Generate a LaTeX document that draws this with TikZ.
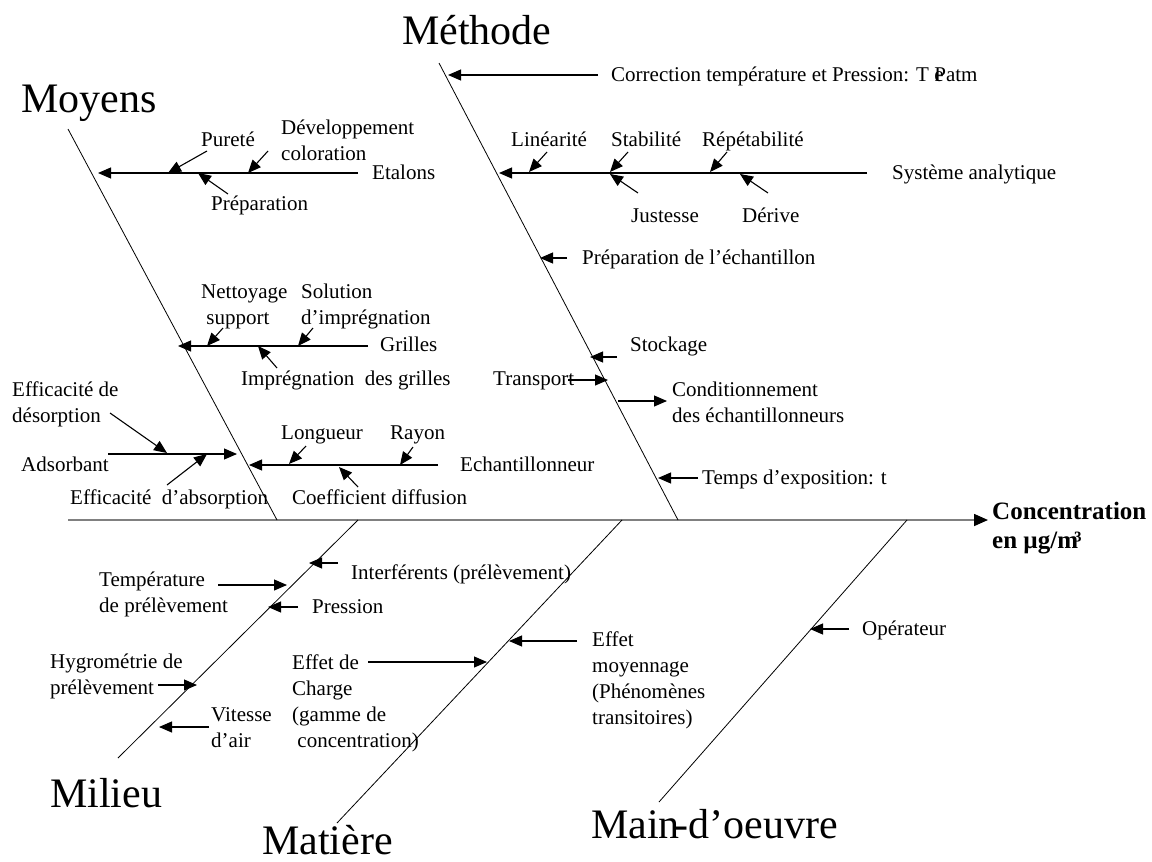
\documentclass[tikz,border=0pt]{standalone}
\usepackage{fontspec}
\setmainfont{Liberation Serif}
\usetikzlibrary{arrows.meta}
\tikzstyle{bone}=[draw, line width=0.8pt]
\tikzstyle{spine}=[draw=gray, line width=1.6pt,
    -{Triangle[length=14pt,width=12pt,color=black]}]
\tikzstyle{cause}=[draw, line width=1.1pt,
    -{Triangle[length=13pt,width=11pt]}]
\tikzstyle{lbl}=[anchor=base west, inner sep=0pt, align=left,
    font=\fontsize{21}{26}\selectfont]
\tikzstyle{heading}=[anchor=base west, inner sep=0pt,
    font=\fontsize{42}{46}\selectfont]
\tikzstyle{effect}=[anchor=base west, inner sep=0pt, align=left,
    font=\bfseries\fontsize{25}{29}\selectfont]

\begin{document}
\begin{tikzpicture}[x=1pt, y=-1pt]

    \useasboundingbox (0,0) rectangle (1152,862);

    \coordinate (spine-a) at ( 68,520);  \coordinate (spine-b) at (988,520);
    \path[spine] (spine-a) -- (spine-b);
    \node[effect] (concentration) at (992,548) {Concentration\\en µg/m\kern-4pt³};

    \coordinate (moyens-a)  at ( 68,129);  \coordinate (moyens-b)  at (277,520);
    \coordinate (methode-a) at (439, 63);  \coordinate (methode-b) at (678,520);
    \coordinate (milieu-a)  at (358,520);  \coordinate (milieu-b)  at (118,758);
    \coordinate (matiere-a) at (622,520);  \coordinate (matiere-b) at (337,823);
    \coordinate (mo-a)      at (907,520);  \coordinate (mo-b)      at (659,802);
    \path[bone] (moyens-a)  -- (moyens-b);
    \path[bone] (methode-a) -- (methode-b);
    \path[bone] (milieu-a)  -- (milieu-b);
    \path[bone] (matiere-a) -- (matiere-b);
    \path[bone] (mo-a)      -- (mo-b);

    \node[heading] (moyens)  at ( 21,112) {Moyens};
    \node[heading] (methode) at (402, 45) {Méthode};
    \node[heading] (milieu)  at ( 50,807) {Milieu};
    \node[heading] (matiere) at (262,854) {Matière};
    \node[heading] (mo)      at (591,838) {Main\kern-5pt-d’oeuvre};

    % Moyens
    \coordinate (etalons-a) at (358,173);  \coordinate (etalons-b) at ( 98,173);
    \coordinate (purete-a)  at (207,151);  \coordinate (purete-b)  at (168,173);
    \coordinate (devel-a)   at (268,151);  \coordinate (devel-b)   at (248,173);
    \coordinate (prepa-a)   at (228,194);  \coordinate (prepa-b)   at (198,173);
    \path[cause] (etalons-a) -- (etalons-b);
    \path[cause] (purete-a)  -- (purete-b);
    \path[cause] (devel-a)   -- (devel-b);
    \path[cause] (prepa-a)   -- (prepa-b);
    \node[lbl] (etalons) at (372,179) {Etalons};
    \node[lbl] (purete)  at (201,146) {Pureté};
    \node[lbl] (devel)   at (281,160) {Développement\\coloration};
    \node[lbl] (prepa)   at (211,210) {Préparation};

    \coordinate (grilles-a) at (368,346);  \coordinate (grilles-b) at (178,346);
    \coordinate (nettoy-a)  at (223,328);  \coordinate (nettoy-b)  at (207,346);
    \coordinate (solut-a)   at (313,328);  \coordinate (solut-b)   at (298,346);
    \coordinate (impreg-a)  at (277,368);  \coordinate (impreg-b)  at (258,346);
    \path[cause] (grilles-a) -- (grilles-b);
    \path[cause] (nettoy-a)  -- (nettoy-b);
    \path[cause] (solut-a)   -- (solut-b);
    \path[cause] (impreg-a)  -- (impreg-b);
    \node[lbl] (grilles) at (380,351) {Grilles};
    \node[lbl] (nettoy)  at (201,324) {Nettoyage\\~support};
    \node[lbl] (solut)   at (301,324) {Solution\\d’imprégnation};
    \node[lbl] (impreg)  at (241,385) {Imprégnation~ des grilles};

    \coordinate (adsorb-a) at (108,454);  \coordinate (adsorb-b) at (237,454);
    \coordinate (desorp-a) at (110,413);  \coordinate (desorp-b) at (167,453);
    \coordinate (absorp-a) at (167,485);  \coordinate (absorp-b) at (207,454);
    \path[cause] (adsorb-a) -- (adsorb-b);
    \path[cause] (desorp-a) -- (desorp-b);
    \path[cause] (absorp-a) -- (absorp-b);
    \node[lbl] (adsorb) at ( 21,471) {Adsorbant};
    \node[lbl] (desorp) at ( 12,422) {Efficacité de\\désorption};
    \node[lbl] (absorp) at ( 70,504) {Efficacité~ d’absorption};

    \coordinate (echant-a) at (438,465);  \coordinate (echant-b) at (249,465);
    \coordinate (longu-a)  at (306,446);  \coordinate (longu-b)  at (289,464);
    \coordinate (rayon-a)  at (413,447);  \coordinate (rayon-b)  at (400,465);
    \coordinate (coeff-a)  at (358,487);  \coordinate (coeff-b)  at (339,467);
    \path[cause] (echant-a) -- (echant-b);
    \path[cause] (longu-a)  -- (longu-b);
    \path[cause] (rayon-a)  -- (rayon-b);
    \path[cause] (coeff-a)  -- (coeff-b);
    \node[lbl] (echant) at (460,471) {Echantillonneur};
    \node[lbl] (longu)  at (281,439) {Longueur};
    \node[lbl] (rayon)  at (390,439) {Rayon};
    \node[lbl] (coeff)  at (292,504) {Coefficient diffusion};

    % Methode
    \coordinate (correc-a) at (598, 75);  \coordinate (correc-b) at (448, 75);
    \path[cause] (correc-a) -- (correc-b);
    \node[lbl] (correc) at (611, 81) {Correction température et Pression: T \rlap{e}Patm};

    \coordinate (syst-a)   at (867,173);  \coordinate (syst-b)   at (499,173);
    \coordinate (linea-a)  at (547,152);  \coordinate (linea-b)  at (529,172);
    \coordinate (stabi-a)  at (628,152);  \coordinate (stabi-b)  at (610,172);
    \coordinate (repet-a)  at (727,152);  \coordinate (repet-b)  at (710,172);
    \coordinate (justes-a) at (638,193);  \coordinate (justes-b) at (610,174);
    \coordinate (derive-a) at (768,193);  \coordinate (derive-b) at (740,174);
    \path[cause] (syst-a)   -- (syst-b);
    \path[cause] (linea-a)  -- (linea-b);
    \path[cause] (stabi-a)  -- (stabi-b);
    \path[cause] (repet-a)  -- (repet-b);
    \path[cause] (justes-a) -- (justes-b);
    \path[cause] (derive-a) -- (derive-b);
    \node[lbl] (syst)   at (892,179) {Système analytique};
    \node[lbl] (linea)  at (511,146) {Linéarité};
    \node[lbl] (stabi)  at (611,146) {Stabilité};
    \node[lbl] (repet)  at (702,146) {Répétabilité};
    \node[lbl] (justes) at (631,222) {Justesse};
    \node[lbl] (derive) at (742,222) {Dérive};

    \coordinate (prepech-a) at (567,258);  \coordinate (prepech-b) at (540,258);
    \coordinate (stock-a)   at (617,357);  \coordinate (stock-b)   at (590,357);
    \coordinate (transp-a)  at (568,380);  \coordinate (transp-b)  at (608,380);
    \coordinate (condit-a)  at (618,401);  \coordinate (condit-b)  at (667,401);
    \coordinate (temps-a)   at (698,478);  \coordinate (temps-b)   at (658,478);
    \path[cause] (prepech-a) -- (prepech-b);
    \path[cause] (stock-a)   -- (stock-b);
    \path[cause] (transp-a)  -- (transp-b);
    \path[cause] (condit-a)  -- (condit-b);
    \path[cause] (temps-a)   -- (temps-b);
    \node[lbl] (prepech) at (582,264) {Préparation de l’échantillon};
    \node[lbl] (stock)   at (630,351) {Stockage};
    \node[lbl] (transp)  at (493,385) {Transport};
    \node[lbl] (condit)  at (672,422) {Conditionnement\\des échantillonneurs};
    \node[lbl] (temps)   at (702,484) {Temps d’exposition: t};

    % Milieu
    \coordinate (interf-a) at (338,563);  \coordinate (interf-b) at (309,563);
    \coordinate (tempe-a)  at (218,585);  \coordinate (tempe-b)  at (287,585);
    \coordinate (press-a)  at (298,607);  \coordinate (press-b)  at (268,607);
    \coordinate (hygro-a)  at (158,685);  \coordinate (hygro-b)  at (197,685);
    \coordinate (vites-a)  at (209,727);  \coordinate (vites-b)  at (159,727);
    \path[cause] (interf-a) -- (interf-b);
    \path[cause] (tempe-a)  -- (tempe-b);
    \path[cause] (press-a)  -- (press-b);
    \path[cause] (hygro-a)  -- (hygro-b);
    \path[cause] (vites-a)  -- (vites-b);
    \node[lbl] (interf) at (351,579) {Interférents (prélèvement)};
    \node[lbl] (tempe)  at ( 99,612) {Température\\de prélèvement};
    \node[lbl] (press)  at (312,613) {Pression};
    \node[lbl] (hygro)  at ( 50,694) {Hygrométrie de\\prélèvement};
    \node[lbl] (vites)  at (211,747) {Vitesse\\d’air};

    % Matiere
    \coordinate (charge-a) at (368,662);  \coordinate (charge-b) at (487,662);
    \coordinate (moyen-a)  at (577,641);  \coordinate (moyen-b)  at (509,641);
    \path[cause] (charge-a) -- (charge-b);
    \path[cause] (moyen-a)  -- (moyen-b);
    \node[lbl] (charge) at (292,747) {Effet de\\Charge\\(gamme de\\~concentration)};
    \node[lbl] (moyen)  at (592,724) {Effet\\moyennage\\(Phénomènes\\transitoires)};

    % Main-d'oeuvre
    \coordinate (operat-a) at (849,629);  \coordinate (operat-b) at (810,629);
    \path[cause] (operat-a) -- (operat-b);
    \node[lbl] (operat) at (862,635) {Opérateur};

\end{tikzpicture}
\end{document}
